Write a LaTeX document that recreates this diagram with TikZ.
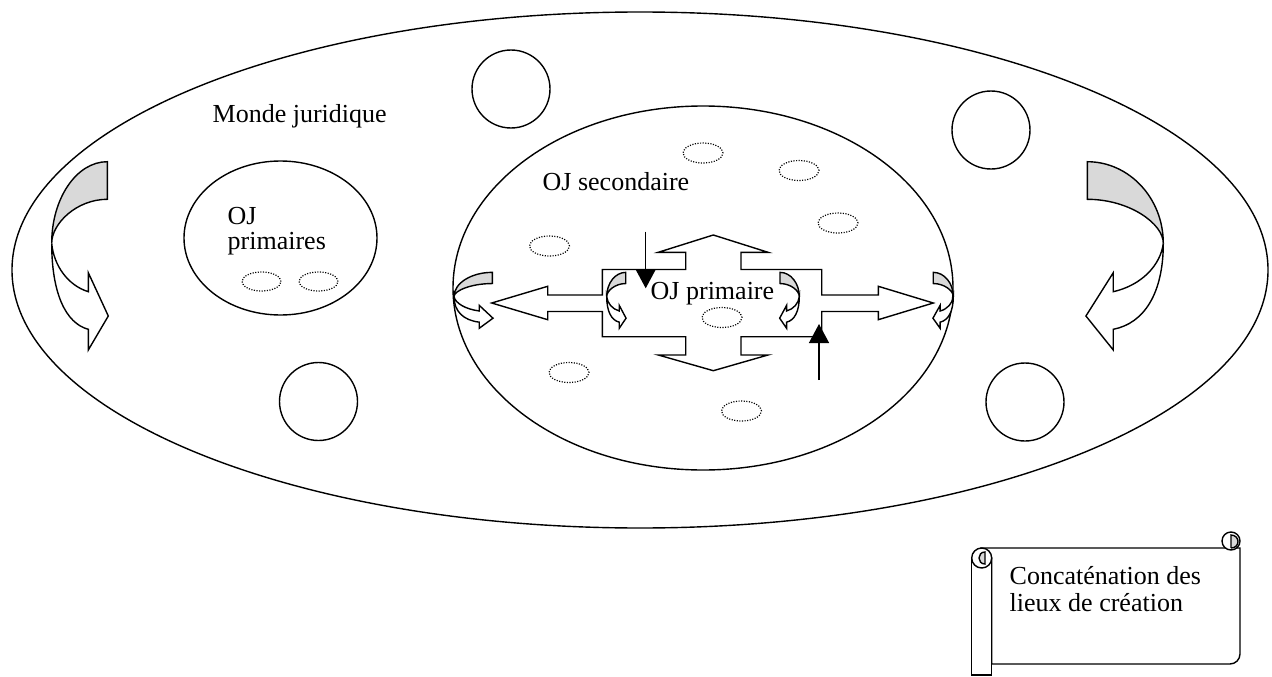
\documentclass[tikz,border=0pt]{standalone}
\usepackage{fontspec}
\setmainfont{Liberation Serif}
\usetikzlibrary{shapes.geometric,arrows.meta}
\begin{document}
\begin{tikzpicture}[x=1pt,y=-1pt,
  line width=1.4pt, line join=miter,
  lbl/.style={anchor=base west, inner sep=0pt, font=\fontsize{26}{27}\selectfont},
  oval/.style={draw, ellipse, inner sep=0pt},
  ring/.style={draw, circle, inner sep=0pt, minimum size=78pt},
  dots/.style={line width=1.2pt, dash pattern=on 1.1pt off 1.5pt},
  thinarrow/.style={line width=1.4pt, -{Triangle[width=20pt,length=19pt]}},
  backband/.style={fill=black!15},
  frontband/.style={fill=white},
  curvarrow/.pic={
    \filldraw[backband] (0,0) .. controls (0,-45) and (24.9,-81.6) .. (55.6,-81.6) -- (55.6,-44) .. controls (24.9,-44) and (0,-19.7) .. (0,0) -- cycle;
    \filldraw[frontband] (0,0) .. controls (0,50) and (14,80) .. (36.6,86) -- (36.6,106.7) -- (56.6,72.7) -- (36.6,29.4) -- (36.6,48.4) .. controls (16,42) and (2,22) .. (0,0) -- cycle;
  }]
\useasboundingbox (0,0) rectangle (1272,677);

% outer world
\node[oval, minimum width=1256pt, minimum height=516pt] (monde) at (640,270) {};
\node[lbl] (mondetxt) at (212,122) {Monde juridique};

% circles
\node[ring] (c1) at (511,89) {};
\node[ring] (c2) at (991,130) {};
\node[ring] (c3) at (318.5,401.5) {};
\node[ring] (c4) at (1025,402) {};

% OJ primaires
\node[oval, minimum width=193pt, minimum height=154pt] (prim) at (280.5,238) {};
\node[lbl] (primtxt1) at (227,224.5) {OJ};
\node[lbl] (primtxt2) at (227,249) {primaires};
\draw[dots] (261.5,281.5) ellipse [x radius=19.5pt, y radius=9.5pt];
\draw[dots] (318.5,281.5) ellipse [x radius=19.5pt, y radius=9.5pt];

% OJ secondaire
\node[oval, minimum width=500pt, minimum height=364pt] (sec) at (703,288) {};
\node[lbl] (sectxt) at (542,190.5) {OJ secondaire};
\draw[dots] (703,153) ellipse [x radius=20pt, y radius=10pt];
\draw[dots] (799,170.5) ellipse [x radius=20pt, y radius=10pt];
\draw[dots] (838,223) ellipse [x radius=20pt, y radius=10pt];
\draw[dots] (549.5,246) ellipse [x radius=20pt, y radius=10pt];
\draw[dots] (569,372.5) ellipse [x radius=20pt, y radius=10pt];
\draw[dots] (741.5,411) ellipse [x radius=20pt, y radius=10pt];

% cross arrow
\draw[fill=white] (602.3,269.5) -- (685.7,269.5) -- (685.7,252.3) -- (658.3,252.3) -- (713.3,235) -- (768,252.3) -- (741,252.3) -- (741,269.5) -- (821.7,269.5) -- (821.7,295) -- (878.3,295) -- (878.3,286.3) -- (933.3,303) -- (878.3,319.7) -- (878.3,311.5) -- (821.7,311.5) -- (821.7,336.7) -- (741,336.7) -- (741,355) -- (768,355) -- (713.3,370.7) -- (658.3,355) -- (685.7,355) -- (685.7,336.7) -- (602.3,336.7) -- (602.3,311.5) -- (547.7,311.5) -- (547.7,319.7) -- (491.7,303) -- (547.7,286.3) -- (547.7,295) -- (602.3,295) -- cycle;
\node[lbl] (primaire) at (650,299.3) {OJ primaire};
\draw[dots] (722,317.5) ellipse [x radius=20pt, y radius=10pt];

% curved arrows
\pic (ca1) at (51.7,243.3) {curvarrow};
\pic[xscale=-1.367] (ca2) at (1163.3,243.3) {curvarrow};
\pic[xscale=0.689, yscale=0.297] (ca3) at (454,296.6) {curvarrow};
\pic[xscale=0.342, yscale=0.297] (ca4) at (606.7,296.6) {curvarrow};
\pic[xscale=-0.347, yscale=0.297] (ca5) at (799.3,296.6) {curvarrow};
\pic[xscale=-0.36, yscale=0.297] (ca6) at (953.3,296.6) {curvarrow};

% thin arrows
\coordinate (d0) at (645.7,231.7);
\coordinate (d1) at (645.7,288.3);
\draw[thinarrow] (d0) -- (d1);
\coordinate (u0) at (819,380);
\coordinate (u1) at (819,324);
\draw[thinarrow] (u0) -- (u1);

% scroll
\filldraw[fill=white] (981.7,548) -- (1240,548) -- (1240,654) .. controls (1240,659.5) and (1235.5,664) .. (1230,664) -- (991.7,664) -- (991.7,558) -- cycle;
\filldraw[fill=white] (1231,541) circle [radius=9pt];
\filldraw[fill=black!15] (1231,548) -- (1231,535) .. controls (1235.5,535) and (1238,538.5) .. (1238,541.5) .. controls (1238,545) and (1235.5,548) .. (1231,548);
\filldraw[fill=white] (971.7,558) -- (971.7,675) -- (991.7,675) -- (991.7,558) -- cycle;
\filldraw[fill=white] (981.7,558) circle [radius=10pt];
\filldraw[fill=black!15] (985,552) .. controls (981,552) and (979,555) .. (979,558) .. controls (979,561) and (981,564) .. (985,564) -- cycle;
\node[lbl] (scroll1) at (1009,584.3) {Concaténation des};
\node[lbl] (scroll2) at (1009,611.7) {lieux de création};
\end{tikzpicture}
\end{document}
